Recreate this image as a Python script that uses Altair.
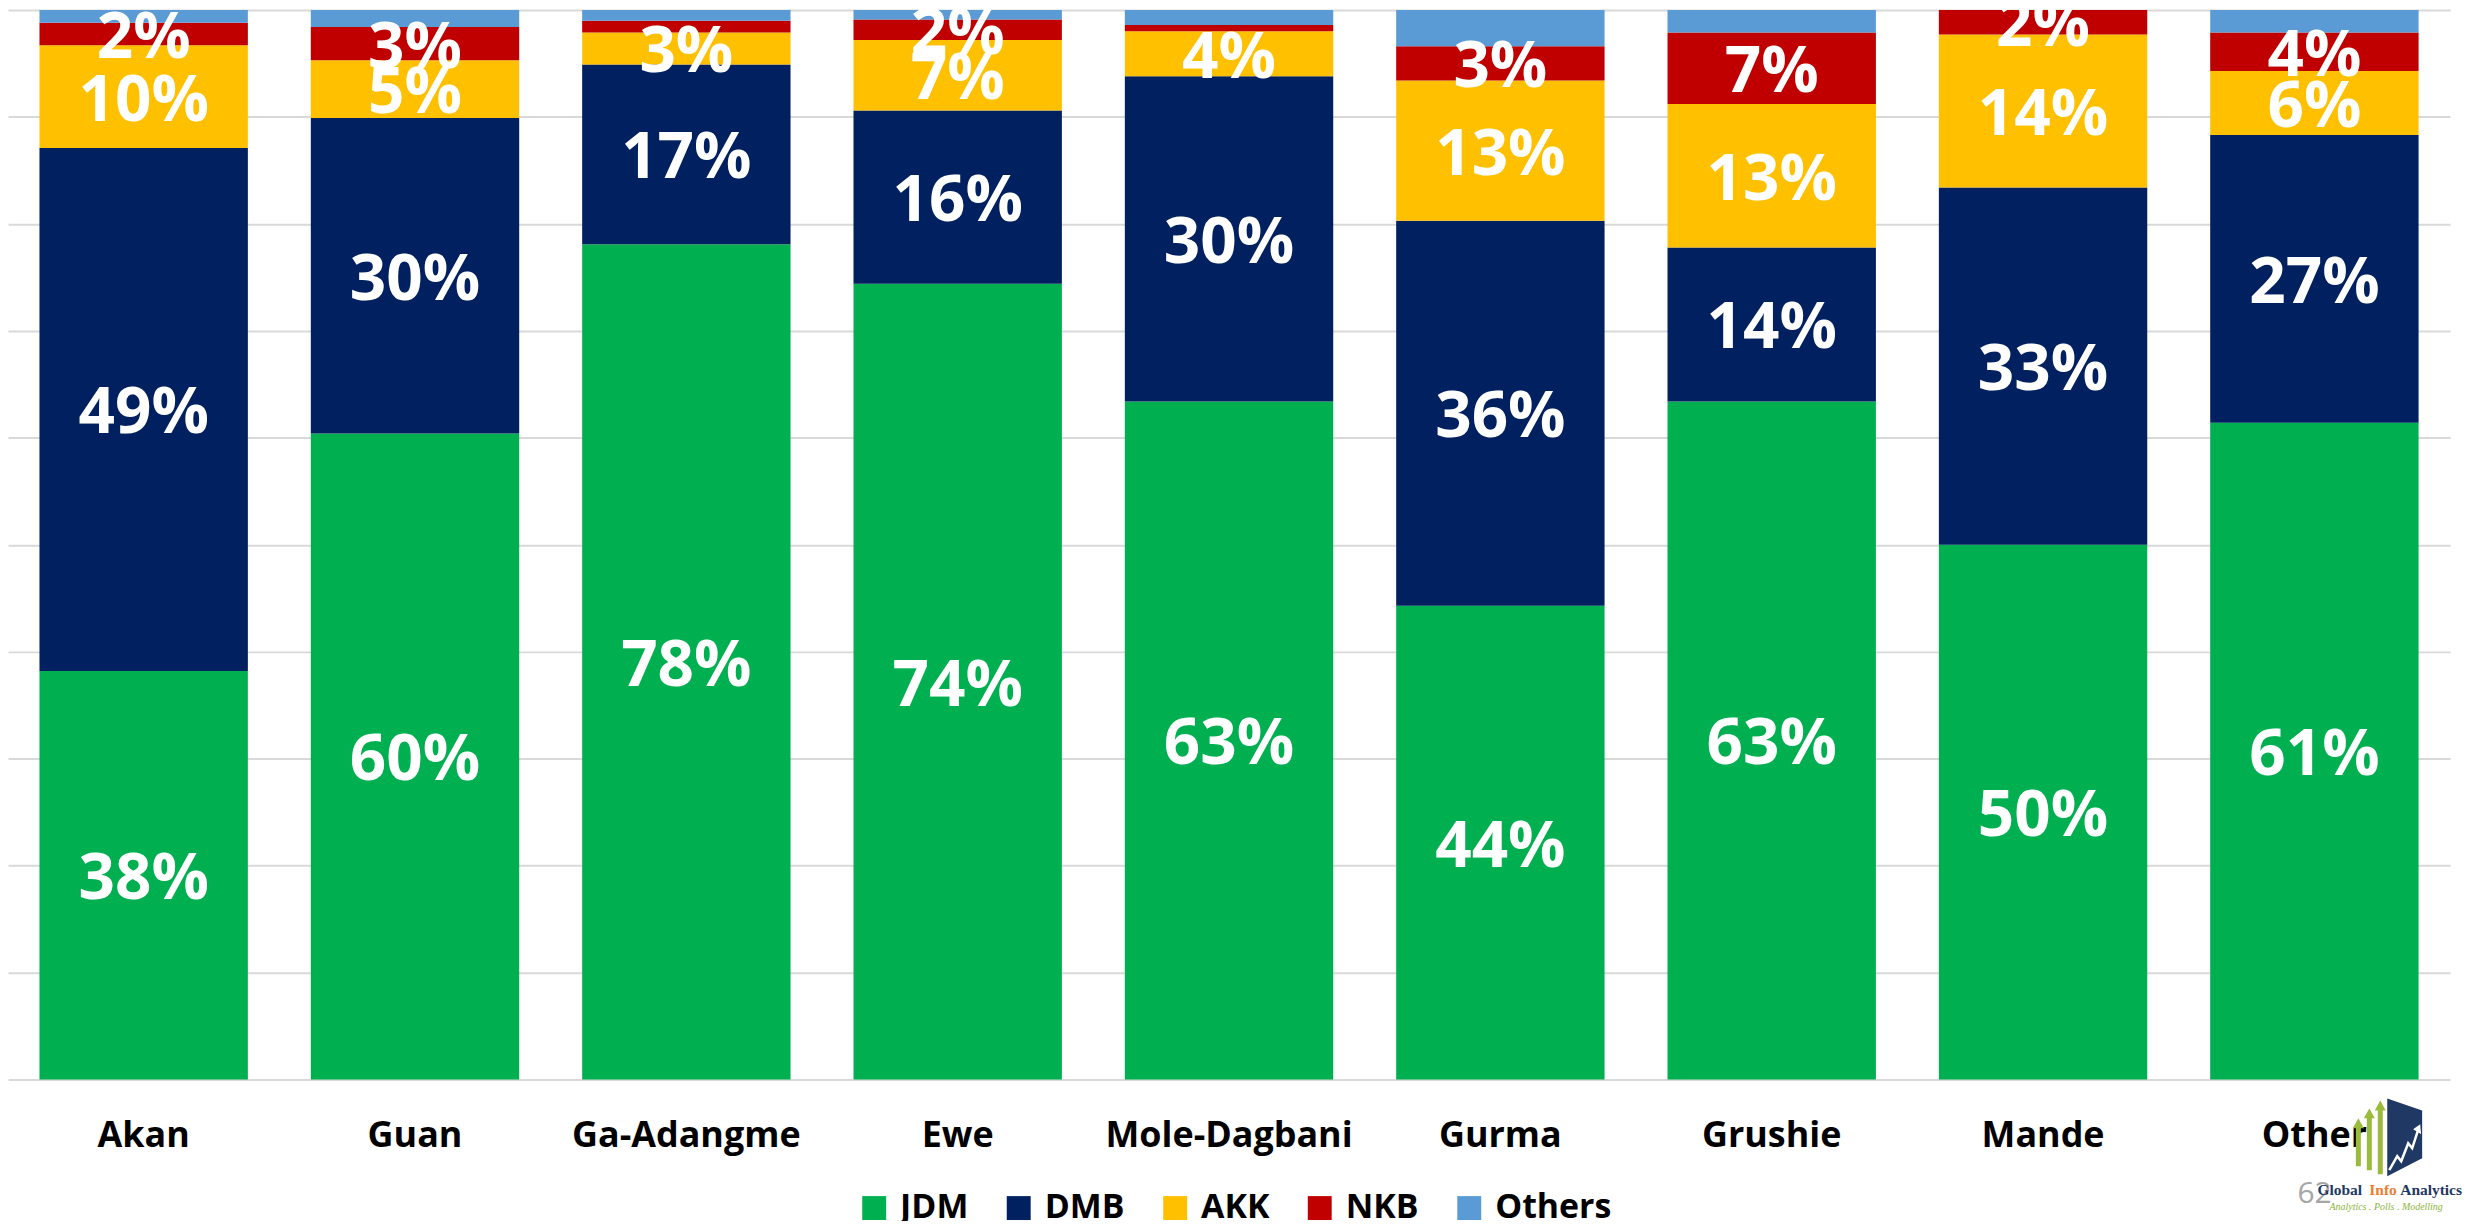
import altair as alt
import pandas as pd

groups = ["Akan", "Guan", "Ga-Adangme", "Ewe", "Mole-Dagbani", "Gurma", "Grushie", "Mande", "Other"]
series = ["JDM", "DMB", "AKK", "NKB", "Others"]
colors = ["#00B050", "#002060", "#FFC000", "#C00000", "#5B9BD5"]

jdm = [38.2, 60.4, 78.1, 74.4, 63.4, 44.3, 63.4, 50.0, 61.4]
dmb = [48.9, 29.5, 16.8, 16.2, 30.4, 36.0, 14.4, 33.4, 26.9]
akk = [9.6, 5.4, 3.0, 6.6, 4.2, 13.1, 13.4, 14.3, 6.0]
nkb = [2.1, 3.1, 1.1, 1.9, 0.6, 3.2, 6.7, 2.3, 3.6]
others = [1.2, 1.6, 1.0, 0.9, 1.4, 3.4, 2.1, 0.0, 2.1]

series_values = {"JDM": jdm, "DMB": dmb, "AKK": akk, "NKB": nkb, "Others": others}

rows = []
for gi, g in enumerate(groups):
    cum = 0.0
    for si, s in enumerate(series):
        v = series_values[s][gi]
        lab = f"{int(v + 0.5)}%" if (s != "Others" and v >= 1.5) else ""
        rows.append(dict(group=g, series=s, order=si, value=v, start=cum,
                         end=cum + v, mid=cum + v / 2, label=lab))
        cum += v
df = pd.DataFrame(rows)

W, H = 2450, 1073

x_enc = alt.X(
    "group:N", sort=groups,
    scale=alt.Scale(paddingInner=0.232, paddingOuter=0.116),
    axis=alt.Axis(title=None, labelAngle=0, labelFont="Open Sans", labelFontWeight="bold",
                  labelFontSize=36, labelColor="black", ticks=False, tickSize=0,
                  domain=False, labelPadding=39, grid=False, labelLimit=0),
)
y_scale = alt.Scale(domain=[0, 100], nice=False)

bars = alt.Chart(df).mark_bar().encode(
    x=x_enc,
    y=alt.Y("start:Q", scale=y_scale,
            axis=alt.Axis(title=None, labels=False, ticks=False, domain=False,
                          values=list(range(0, 101, 10)), gridColor="#D9D9D9", gridWidth=2)),
    y2="end:Q",
    color=alt.Color("series:N", sort=series,
                    scale=alt.Scale(domain=series, range=colors),
                    legend=alt.Legend(orient="none", legendX=852, legendY=1185,
                                      direction="horizontal", title=None,
                                      symbolType="square", symbolSize=576,
                                      symbolStrokeWidth=0, symbolOpacity=1,
                                      labelFont="Open Sans", labelFontWeight="bold",
                                      labelFontSize=34, labelColor="black",
                                      labelOffset=9, columnPadding=33, padding=0,
                                      labelLimit=400)),
    order=alt.Order("order:Q"),
)

labels = alt.Chart(df).transform_filter("datum.label != ''").mark_text(
    font="Open Sans", fontWeight="bold", fontSize=64, color="white",
    baseline="middle", align="center", dy=5,
).encode(
    x=alt.X("group:N", sort=groups),
    y=alt.Y("mid:Q", scale=y_scale),
    text="label:N",
)

one = pd.DataFrame({"k": [0]})

# footer decorations (page number and logo)
page_no = alt.Chart(one).mark_text(text="62", font="Open Sans", fontSize=30, color="#A6A6A6",
                                   align="center", baseline="alphabetic").encode(
    x=alt.value(2314), y=alt.value(1197))

def word(t, xpos, col):
    return alt.Chart(one).mark_text(text=t, font="Liberation Serif", fontWeight="bold",
                                    fontSize=15.5, color=col, align="left",
                                    baseline="alphabetic").encode(
        x=alt.value(xpos), y=alt.value(1189))

w1 = word("Global", 2317, "#1F3864")
w2 = word("Info", 2369, "#ED7D31")
w3 = word("Analytics", 2400, "#1F3864")
tag = alt.Chart(one).mark_text(text="Analytics . Polls . Modelling", font="Liberation Serif",
                               fontStyle="italic", fontSize=10, color="#8CB43C",
                               align="left", baseline="alphabetic").encode(
    x=alt.value(2329), y=alt.value(1204))


def arrow(cx, apex, base, bottom, hw=0.0625, hh=0.1375):
    return (f"M{cx-hw},{bottom}L{cx-hw},{base}L{cx-hh},{base}L{cx},{apex}"
            f"L{cx+hh},{base}L{cx+hw},{base}L{cx+hw},{bottom}Z")

arrows_path = arrow(-0.775, -0.5, -0.25, 0.7) + arrow(-0.5, -0.75, -0.5, 0.8) + arrow(-0.225, -0.95, -0.7, 0.9)
para_path = "M-0.05,-1L0.825,-0.7L0.825,0.5L-0.05,0.95Z"
zig_path = "M0,0.8L0.2,0.45L0.3,0.575L0.475,0.125L0.575,0.25L0.72,-0.2"
head_path = "M0.6,-0.225L0.775,-0.35L0.8,-0.1Z"

LX, LY, LS = 2389, 1132, 6400
g_arrows = alt.Chart(one).mark_point(shape=arrows_path, filled=True, size=LS, color="#9BBB3B",
                                     opacity=1, strokeWidth=0).encode(
    x=alt.value(LX), y=alt.value(LY))
g_para = alt.Chart(one).mark_point(shape=para_path, filled=True, size=LS, color="#1F3864",
                                   opacity=1, strokeWidth=0).encode(
    x=alt.value(LX), y=alt.value(LY))
g_zig = alt.Chart(one).mark_point(shape=zig_path, filled=False, size=LS, color="white",
                                  opacity=1, strokeWidth=2.5).encode(
    x=alt.value(LX), y=alt.value(LY))
g_head = alt.Chart(one).mark_point(shape=head_path, filled=True, size=LS, color="white",
                                   opacity=1, strokeWidth=0).encode(
    x=alt.value(LX), y=alt.value(LY))

chart = alt.layer(bars, labels, g_arrows, g_para, g_zig, g_head, page_no, w1, w2, w3, tag).properties(
    width=W, height=H,
    padding={"left": 0, "top": 0, "right": 20, "bottom": 140},
    autosize=alt.AutoSizeParams(type="none"),
    background="white",
).configure_view(stroke=None)

chart.save("out.html", embed_options={"renderer": "svg", "actions": False})
